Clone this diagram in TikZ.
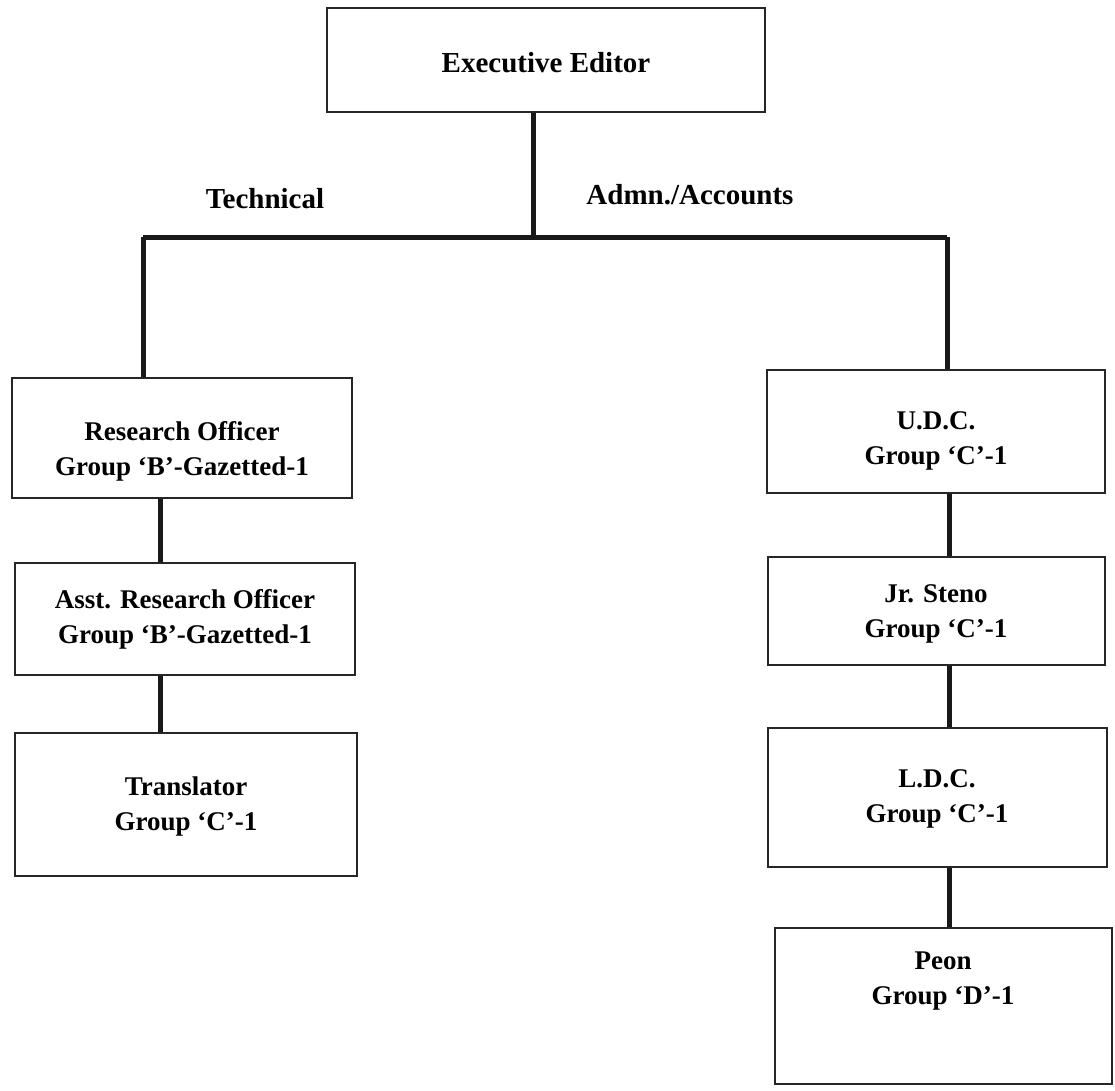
\documentclass[tikz,border=0pt]{standalone}
\usepackage{fontspec}
\setmainfont{Liberation Serif}
\begin{document}
\begin{tikzpicture}[x=1pt,y=-1pt,
  box/.style={draw=black!85, line width=1.4pt, rectangle, inner sep=0pt},
  txt/.style={align=center, font=\fontsize{27}{35}\selectfont\bfseries, inner sep=0pt},
  bigtxt/.style={txt, font=\fontsize{29}{35}\selectfont\bfseries},
  conn/.style={line width=5pt, black!90}]
\useasboundingbox[fill=white] (0,0) rectangle (1115,1090);
% boxes
\node[box, minimum width=438, minimum height=104] (exec) at (546,60) {};
\node[bigtxt] (exectxt) at (546,63) {Executive Editor};
\node[box, minimum width=340, minimum height=120] (ro) at (182,438) {};
\node[txt] (rotxt) at (182,451) {Research Officer\\Group ‘B’-Gazetted-1};
\node[box, minimum width=340, minimum height=112] (aro) at (185,619) {};
\node[txt] (arotxt) at (185,619) {Asst. Research Officer\\Group ‘B’-Gazetted-1};
\node[box, minimum width=342, minimum height=143] (tr) at (186,804.5) {};
\node[txt] (trtxt) at (186,806) {Translator\\Group ‘C’-1};
\node[box, minimum width=338, minimum height=123] (udc) at (936,431.5) {};
\node[txt] (udctxt) at (936,441) {U.D.C.\\Group ‘C’-1};
\node[box, minimum width=337, minimum height=108] (js) at (936.5,611) {};
\node[txt] (jstxt) at (936,614) {Jr. Steno\\Group ‘C’-1};
\node[box, minimum width=339, minimum height=139] (ldc) at (937.5,797.5) {};
\node[txt] (ldctxt) at (937,799) {L.D.C.\\Group ‘C’-1};
\node[box, minimum width=337, minimum height=156] (peon) at (943.5,1006) {};
\node[txt] (peontxt) at (943,981) {Peon\\Group ‘D’-1};
% branch labels
\node[bigtxt] (tech) at (265,199) {Technical};
\node[bigtxt] (admn) at (690,195) {Admn./Accounts};
% connectors
\coordinate (j) at (533,237);
\coordinate (bl) at (143,237);
\coordinate (br) at (947,237);
\coordinate (lx) at (160,0);
\coordinate (rx) at (949,0);
\draw[conn] (exec.south -| j) -- (j);
\draw[conn] (bl) -- (br);
\draw[conn] (bl) -- (bl |- ro.north);
\draw[conn] (br) -- (br |- udc.north);
\draw[conn] (ro.south -| lx) -- (aro.north -| lx);
\draw[conn] (aro.south -| lx) -- (tr.north -| lx);
\draw[conn] (udc.south -| rx) -- (js.north -| rx);
\draw[conn] (js.south -| rx) -- (ldc.north -| rx);
\draw[conn] (ldc.south -| rx) -- (peon.north -| rx);
\end{tikzpicture}
\end{document}
